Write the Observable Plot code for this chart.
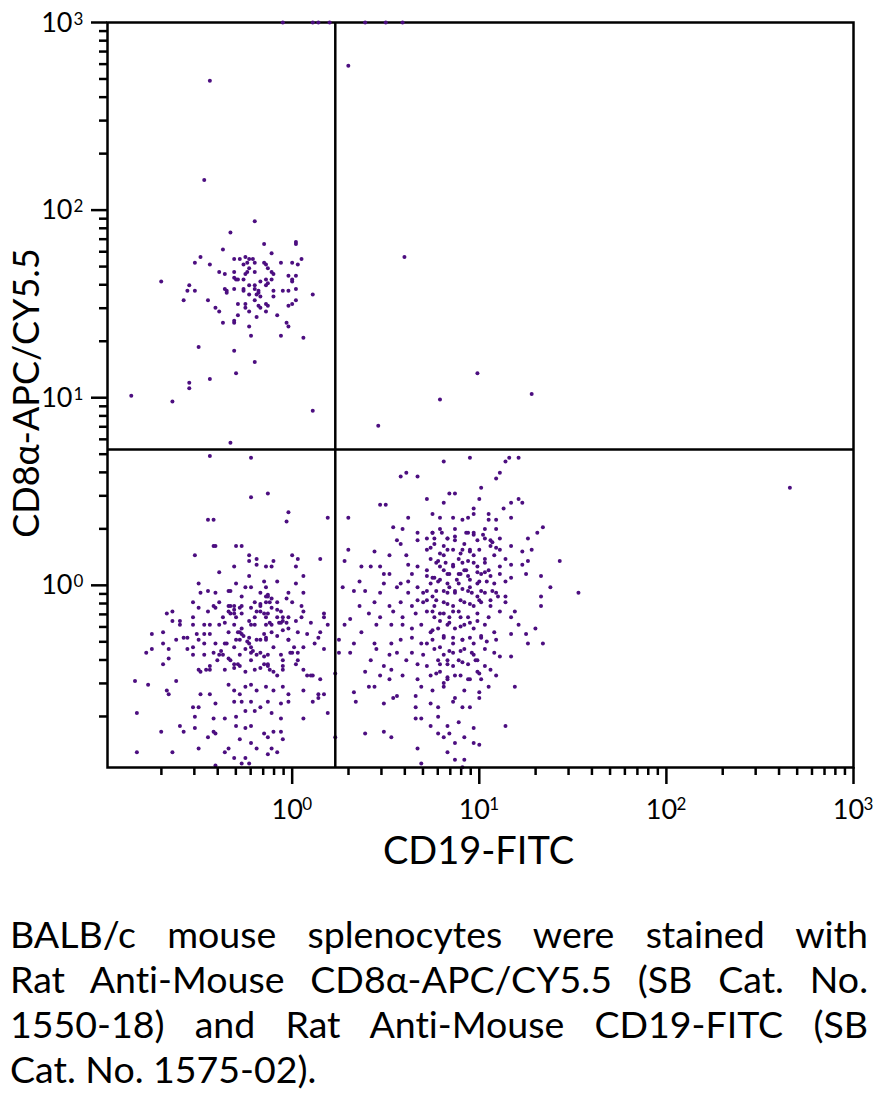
<!DOCTYPE html>
<html><head><meta charset="utf-8">
<script src="https://cdn.jsdelivr.net/npm/d3@7"></script>
<script src="https://cdn.jsdelivr.net/npm/@observablehq/plot@0.6"></script>
<style>
html,body{margin:0;padding:0;background:#fff;}
#wrap{position:relative;width:884px;height:1099px;overflow:hidden;}
#caption{position:absolute;left:10px;top:911px;width:858px;font-family:Lato,sans-serif;font-size:37.5px;line-height:45px;color:#000;font-variant-ligatures:none;}
#caption div{text-align:justify;text-align-last:justify;white-space:nowrap;}
#caption div.last{text-align-last:left;}
svg text{font-variant-ligatures:none;}
</style></head><body><div id="wrap"><div id="chart"></div><div id="caption"></div></div>
<script>
// values are log10 of fluorescence intensity (decades)
// CD8+ T cells (upper-left quadrant)
const ulX = [-0.20,-0.33,0.02,0.02,-0.15,-0.37,-0.11,-0.49,-0.25,-0.23,-0.21,-0.20,0.05,-0.52,-0.31,-0.28,-0.06,0,0.03,-0.44,-0.26,-0.24,-0.15,-0.14,-0.13,-0.11,-0.10,-0.39,-0.36,-0.31,-0.24,-0.23,-0.20,-0.25,-0.31,-0.30,-0.29,-0.26,-0.14,-0.11,-0.02,0,0.02,0,-0.70,-0.17,-0.14,-0.13,-0.55,-0.36,-0.35,-0.35,-0.31,-0.26,-0.26,-0.23,-0.20,-0.20,-0.18,-0.18,-0.17,-0.19,-0.56,-0.52,-0.10,-0.05,-0.02,0.02,-0.23,0.11,-0.58,-0.45,-0.20,-0.10,-0.29,-0.25,-0.14,-0.13,0.02,0,-0.02,-0.18,-0.17,-0.41,-0.39,-0.25,-0.23,-0.14,-0.29,-0.08,-0.19,-0.31,-0.31,-0.37,-0.03,-0.02,-0.23,-0.22,-0.06,0.06,-0.50,-0.31,-0.20,-0.30,-0.44,-0.55,-0.55,-0.86,-0.64,0.11,-0.33];
const ulY = [1.94,1.88,1.83,1.82,1.82,1.79,1.77,1.75,1.75,1.74,1.74,1.72,1.74,1.72,1.74,1.74,1.72,1.72,1.71,1.71,1.71,1.72,1.72,1.71,1.69,1.67,1.66,1.67,1.66,1.67,1.67,1.69,1.67,1.66,1.64,1.63,1.63,1.63,1.63,1.63,1.65,1.63,1.65,1.62,1.62,1.62,1.60,1.61,1.60,1.58,1.57,1.56,1.58,1.58,1.57,1.60,1.60,1.58,1.57,1.56,1.54,1.55,1.57,1.57,1.57,1.57,1.57,1.58,1.55,1.55,1.52,1.52,1.52,1.54,1.50,1.50,1.50,1.49,1.52,1.50,1.49,1.49,1.48,1.48,1.46,1.48,1.46,1.46,1.44,1.44,1.43,1.41,1.40,1.40,1.40,1.38,1.38,1.33,1.33,1.32,1.27,1.25,1.19,1.13,1.10,1.08,1.05,1.01,0.98,0.93,0.76];

// double-negative cells (lower-left quadrant)
const llX = [-0.44,-0.22,-0.22,-0.13,-0.02,-0.03,0.19,-0.45,-0.42,-0.42,-0.41,-0.30,-0.27,-0.52,-0.23,-0.23,-0.19,-0.19,-0.10,0,0.03,0.15,-0.31,-0.14,-0.11,0.02,-0.39,-0.23,0.06,-0.15,-0.08,-0.50,-0.30,-0.25,-0.22,-0.14,0.02,
-0.45,-0.49,-0.34,-0.33,-0.41,-0.27,-0.17,-0.13,-0.11,-0.03,-0.02,0.06,
-0.53,-0.50,-0.42,-0.39,-0.34,-0.31,-0.27,-0.20,-0.17,-0.14,-0.08,0,0.05,
-0.64,-0.67,-0.45,-0.41,-0.34,-0.31,-0.30,-0.19,-0.15,-0.11,-0.06,0.06,0.17,0.17,
-0.64,-0.60,-0.53,-0.37,-0.27,-0.23,-0.20,-0.14,-0.08,-0.05,-0.02,0.02,0.05,
-0.69,-0.60,-0.53,-0.47,-0.44,-0.39,-0.36,-0.31,-0.20,-0.11,-0.06,-0.02,0.10,0.19,
-0.75,-0.69,-0.62,-0.58,-0.56,-0.51,-0.47,-0.44,-0.34,-0.28,-0.27,-0.23,-0.15,-0.11,0.03,0.08,0.15,
-0.78,-0.75,-0.66,-0.56,-0.53,-0.50,-0.47,-0.41,-0.36,-0.30,-0.23,-0.19,-0.14,-0.10,-0.02,0.06,0.12,0.14,
-0.69,-0.66,-0.53,-0.47,-0.42,-0.39,-0.34,-0.28,-0.25,-0.22,-0.17,-0.13,-0.06,0,0.03,0.17,
-0.84,-0.77,-0.62,-0.50,-0.49,-0.44,-0.36,-0.31,-0.28,-0.25,-0.20,-0.15,-0.13,-0.10,-0.05,0.02,0.08,0.11,0.15,
-0.67,-0.66,-0.49,-0.44,-0.34,-0.31,-0.28,-0.25,-0.22,-0.19,-0.14,-0.10,-0.05,-0.02,0.06,0.14,0.17,
-0.53,-0.50,-0.41,-0.31,-0.27,-0.22,-0.17,-0.13,-0.06,-0.02,0.11,0.14,
-0.83,-0.52,-0.42,-0.30,-0.25,-0.20,-0.11,-0.06,0.19,
-0.60,-0.52,-0.42,-0.41,-0.36,-0.30,-0.25,-0.22,-0.15,-0.13,-0.10,-0.06,0.06,
-0.70,-0.58,-0.45,-0.28,-0.22,-0.05,
-0.83,-0.64,-0.50,-0.36,-0.34,-0.31,-0.19,-0.11,-0.13,-0.08,-0.25,-0.23,-0.27,-0.41];
const llY = [0.69,0.68,0.47,0.49,0.39,0.34,0.36,0.35,0.35,0.21,0.21,0.21,0.21,0.16,0.16,0.13,0.14,0.11,0.13,0.16,0.14,0.14,0.10,0.10,0.10,0.10,0.07,0.05,0.05,0.02,0.02,0.01,0.01,-0.01,-0.01,-0.01,0.01,
-0.03,-0.04,-0.03,-0.03,-0.04,-0.06,-0.04,-0.06,-0.07,-0.07,-0.04,-0.04,
-0.09,-0.12,-0.11,-0.09,-0.11,-0.11,-0.11,-0.09,-0.11,-0.09,-0.09,-0.09,-0.11,
-0.14,-0.15,-0.14,-0.12,-0.14,-0.15,-0.17,-0.14,-0.15,-0.12,-0.14,-0.14,-0.15,-0.17,
-0.19,-0.19,-0.17,-0.17,-0.15,-0.19,-0.17,-0.17,-0.17,-0.19,-0.17,-0.19,-0.17,
-0.25,-0.21,-0.21,-0.21,-0.21,-0.21,-0.20,-0.21,-0.21,-0.21,-0.20,-0.23,-0.20,-0.21,
-0.26,-0.31,-0.29,-0.28,-0.28,-0.26,-0.26,-0.26,-0.25,-0.25,-0.26,-0.28,-0.26,-0.25,-0.25,-0.26,-0.25,
-0.36,-0.34,-0.34,-0.34,-0.33,-0.29,-0.31,-0.31,-0.31,-0.29,-0.31,-0.29,-0.29,-0.33,-0.29,-0.33,-0.31,-0.28,
-0.42,-0.39,-0.37,-0.37,-0.36,-0.37,-0.39,-0.37,-0.34,-0.36,-0.36,-0.37,-0.37,-0.36,-0.36,-0.34,
-0.51,-0.53,-0.51,-0.45,-0.46,-0.45,-0.45,-0.42,-0.43,-0.46,-0.45,-0.42,-0.43,-0.46,-0.43,-0.42,-0.48,-0.48,-0.50,
-0.56,-0.58,-0.58,-0.58,-0.53,-0.56,-0.58,-0.54,-0.53,-0.56,-0.54,-0.56,-0.54,-0.58,-0.56,-0.58,-0.58,
-0.65,-0.65,-0.63,-0.62,-0.62,-0.62,-0.65,-0.62,-0.63,-0.62,-0.62,-0.60,
-0.68,-0.70,-0.71,-0.70,-0.67,-0.67,-0.68,-0.71,-0.68,
-0.75,-0.76,-0.78,-0.79,-0.71,-0.75,-0.76,-0.75,-0.79,-0.81,-0.78,-0.78,-0.71,
-0.78,-0.78,-0.81,-0.82,-0.84,-0.82,
-0.89,-0.89,-0.87,-0.89,-0.87,-0.92,-0.87,-0.87,-0.90,-0.89,-0.92,-0.95,-0.95,-0.96];
const llCoreX = [-0.33,-0.31,-0.33,-0.28,-0.22,-0.17,-0.14,-0.13,-0.12,-0.17,-0.13,-0.08,-0.05,-0.03,-0.07,-0.12,-0.14,-0.22,-0.27,-0.29,-0.26,-0.28,-0.24,-0.22,-0.21,-0.31,-0.35,-0.38,-0.37,-0.40,-0.44,-0.46,-0.33,-0.29,-0.31,-0.22,-0.19,-0.15,-0.13,-0.12,-0.17,-0.14,-0.08,-0.05,-0.02,0.01,-0.01,-0.05,-0.05,-0.08,0.03,0.06,0.10,-0.17];
const llCoreY = [-0.11,-0.13,-0.15,-0.12,-0.12,-0.10,-0.06,-0.05,-0.09,-0.14,-0.15,-0.13,-0.17,-0.20,-0.20,-0.20,-0.21,-0.21,-0.23,-0.25,-0.27,-0.29,-0.30,-0.33,-0.35,-0.33,-0.31,-0.35,-0.37,-0.40,-0.43,-0.45,-0.40,-0.42,-0.44,-0.40,-0.37,-0.38,-0.42,-0.45,-0.29,-0.28,-0.27,-0.24,-0.29,-0.33,-0.36,-0.40,-0.45,-0.48,-0.40,-0.45,-0.48,-0.44];

// B cells (lower-right quadrant)
const lrX = [0.81,0.95,1.14,1.16,1.21,
0.58,0.61,0.67,1.11,1.09,1.01,
0.84,0.87,0.72,0.81,1.00,1.17,1.21,1.23,
0.47,0.50,0.97,1.13,
0.30,0.62,0.75,0.79,0.86,0.91,0.94,0.97,1.05,1.09,1.17,1.05,
0.54,0.59,0.67,0.75,0.79,0.87,0.94,0.97,1.03,1.09,1.31,1.34,
0.56,0.67,0.72,0.76,0.83,0.87,0.92,0.99,1.03,1.06,1.11,1.26,
0.30,0.44,0.58,0.72,0.81,0.86,0.91,0.95,1.00,1.06,1.11,1.17,1.23,1.28,
0.28,0.52,0.61,0.74,0.78,0.81,0.89,0.94,0.97,1.03,1.08,1.14,1.26,1.43,
0.37,0.42,0.47,0.62,0.67,0.72,0.79,0.86,0.92,0.99,1.05,1.11,1.17,1.23,
0.49,0.52,0.64,0.72,0.76,0.83,0.89,0.94,1.01,1.06,1.11,1.25,1.33,
0.27,0.36,0.49,0.58,0.62,0.67,0.74,0.78,0.84,0.89,0.95,1.00,1.08,1.14,1.17,1.38,
0.33,0.39,0.47,0.56,0.62,0.70,0.75,0.81,0.87,0.94,0.99,1.03,1.09,1.14,1.33,
0.36,0.44,0.52,0.58,0.64,0.70,0.76,0.81,0.86,0.92,0.97,1.01,1.06,1.14,1.33,1.53,
0.31,0.41,0.47,0.54,0.59,0.66,0.72,0.76,0.79,0.84,0.89,0.94,0.99,1.05,1.11,1.17,1.19,
0.28,0.37,0.45,0.53,0.59,0.64,0.69,0.74,0.78,0.83,0.87,0.92,0.97,1.03,1.08,1.17,1.21,1.25,1.30,
0.25,0.33,0.44,0.53,0.58,0.64,0.69,0.75,0.81,0.86,0.91,0.95,1.01,1.09,1.26,1.34,
0.25,0.31,0.45,0.52,0.56,0.64,0.70,0.76,0.81,0.86,0.92,0.97,1.03,1.08,1.17,
0.42,0.49,0.53,0.61,0.67,0.72,0.78,0.83,0.89,0.94,0.99,1.03,1.11,1.06,
0.39,0.47,0.52,0.59,0.67,0.74,0.79,0.83,0.87,0.94,0.99,1.01,1.09,
0.33,0.41,0.44,0.56,0.66,0.69,0.75,0.81,0.87,0.92,1.00,1.05,1.19,
0.34,0.49,0.54,0.66,0.74,0.78,0.86,0.91,0.95,1.00,
0.66,0.69,0.74,0.78,0.83,0.89,0.97,1.14,
0.39,0.49,0.53,0.78,0.81,0.84,0.87,0.92,0.97,1.00,
0.67,0.83,0.87,0.92,0.69,0.91,0.23,0.23];
const lrY = [0.66,0.68,0.66,0.68,0.68,
0.58,0.60,0.58,0.60,0.57,0.52,
0.49,0.49,0.46,0.44,0.46,0.44,0.46,0.44,
0.43,0.43,0.41,0.41,
0.36,0.36,0.38,0.36,0.36,0.35,0.36,0.38,0.38,0.35,0.36,0.35,
0.31,0.30,0.28,0.28,0.30,0.30,0.28,0.27,0.30,0.30,0.28,0.31,
0.24,0.24,0.25,0.22,0.25,0.24,0.22,0.24,0.25,0.24,0.25,0.25,
0.19,0.18,0.22,0.19,0.21,0.19,0.19,0.18,0.19,0.21,0.19,0.21,0.18,0.19,
0.13,0.16,0.16,0.14,0.13,0.16,0.14,0.13,0.16,0.14,0.16,0.14,0.13,0.13,
0.10,0.10,0.10,0.11,0.10,0.08,0.10,0.10,0.08,0.10,0.08,0.10,0.11,0.11,
0.06,0.06,0.06,0.05,0.04,0.06,0.06,0.05,0.06,0.05,0.06,0.06,0.05,
-0.01,0.02,0.01,0.01,0.02,-0.01,0.01,0.02,-0.01,0.01,-0.01,0.02,0.01,0.02,0.04,-0.01,
-0.03,-0.03,-0.04,-0.01,-0.04,-0.04,-0.06,-0.03,-0.04,-0.03,-0.06,-0.04,-0.04,-0.06,-0.06,
-0.11,-0.09,-0.11,-0.09,-0.11,-0.09,-0.11,-0.09,-0.11,-0.09,-0.11,-0.09,-0.11,-0.09,-0.11,-0.04,
-0.18,-0.15,-0.17,-0.14,-0.17,-0.15,-0.14,-0.17,-0.15,-0.17,-0.14,-0.17,-0.15,-0.17,-0.14,-0.17,-0.14,
-0.21,-0.25,-0.21,-0.21,-0.21,-0.23,-0.21,-0.25,-0.23,-0.21,-0.23,-0.21,-0.23,-0.21,-0.25,-0.26,-0.21,-0.26,-0.23,
-0.29,-0.31,-0.31,-0.31,-0.29,-0.28,-0.31,-0.29,-0.28,-0.31,-0.29,-0.28,-0.28,-0.29,-0.31,-0.31,
-0.36,-0.36,-0.34,-0.37,-0.36,-0.36,-0.37,-0.34,-0.37,-0.36,-0.34,-0.37,-0.34,-0.36,-0.38,
-0.40,-0.43,-0.45,-0.40,-0.42,-0.43,-0.40,-0.42,-0.40,-0.42,-0.40,-0.43,-0.38,-0.45,
-0.46,-0.48,-0.50,-0.48,-0.50,-0.48,-0.46,-0.50,-0.48,-0.50,-0.46,-0.50,-0.48,
-0.57,-0.54,-0.54,-0.59,-0.59,-0.54,-0.56,-0.54,-0.60,-0.56,-0.57,-0.54,-0.54,
-0.62,-0.63,-0.60,-0.65,-0.63,-0.65,-0.62,-0.65,-0.65,-0.60,
-0.71,-0.71,-0.75,-0.70,-0.75,-0.73,-0.76,-0.75,
-0.79,-0.78,-0.81,-0.79,-0.81,-0.79,-0.84,-0.81,-0.84,-0.85,
-0.87,-0.89,-0.93,-0.93,-0.95,-0.97,-0.81,-0.47];
const lrCoreX = [0.75,0.80,0.76,0.83,0.87,0.93,0.97,1.02,1.07,1.09,0.95,0.90,0.83,0.79,0.74,0.77,0.82,0.86,0.91,0.97,1.03,0.81,0.84,0.90,0.93,0.99,1.03,0.75,0.79,0.83,0.88,0.95,0.99,1.04,0.72,0.77,0.83,0.87,0.91,0.96,1.01,1.07,0.67,0.72,0.77,0.83,0.90,0.95,1.00,1.06,1.10,
0.75,0.81,0.86,0.90,0.79,0.84,0.90,0.95,0.99,1.01,1.04,0.75,0.81,0.86,0.91,0.97,0.72,0.79,0.84,0.90,0.96,0.83,0.79,0.86,0.91,0.98,0.77,0.83,0.90,0.95,1.00,0.81];
const lrCoreY = [0.28,0.28,0.25,0.25,0.26,0.28,0.28,0.27,0.23,0.20,0.19,0.17,0.19,0.17,0.20,0.12,0.12,0.11,0.12,0.12,0.12,0.08,0.06,0.06,0.08,0.07,0.07,0.04,0.03,0.01,0.03,0.03,0.01,0.02,-0.03,-0.03,-0.04,-0.03,-0.02,-0.04,-0.03,-0.03,-0.08,-0.08,-0.08,-0.10,-0.08,-0.10,-0.08,-0.08,-0.06,
-0.14,-0.15,-0.14,-0.17,-0.19,-0.20,-0.22,-0.20,-0.19,-0.27,-0.30,-0.24,-0.27,-0.28,-0.29,-0.31,-0.31,-0.33,-0.35,-0.35,-0.36,-0.40,-0.42,-0.43,-0.41,-0.40,-0.47,-0.49,-0.48,-0.50,-0.47,-0.52];

// scattered events
const outX = [-0.44,-0.47,0.30,0.60,0.99,0.79,1.28,0.46,2.66];
const outY = [2.69,2.16,2.77,1.75,1.13,0.99,1.02,0.85,0.52];
// events piled at the top of the CD8 scale (10^3)
const topX = [-0.05,0.11,0.14,0.20,0.39,0.50,0.59];
const topY = [3,3,3,3,3,3,3];

// quadrant gates
const gateCD19 = [1.7];
const gateCD8 = [5.3];

// ticks
const xMajor = [1,10,100,1000];
const yMajor = [1,10,100,1000];
const minorTicks = [0.2,0.3,0.4,0.5,0.6,0.7,0.8,0.9,2,3,4,5,6,7,8,9,20,30,40,50,60,70,80,90,200,300,400,500,600,700,800,900];

const xLabel = "CD19-FITC";
const yLabel = "CD8\u03b1-APC/CY5.5";
const captionLines = [
  "BALB/c mouse splenocytes were stained with",
  "Rat Anti-Mouse CD8\u03b1-APC/CY5.5 (SB Cat. No.",
  "1550-18) and Rat Anti-Mouse CD19-FITC (SB",
  "Cat. No. 1575-02)."
];

const toRows = (xs, ys) => xs.slice(0, Math.min(xs.length, ys.length)).map((x, i) => ({cd19: 10 ** x, cd8: 10 ** ys[i]}));
const events = [
  ...toRows(ulX, ulY), ...toRows(llX, llY), ...toRows(llCoreX, llCoreY),
  ...toRows(lrX, lrY), ...toRows(lrCoreX, lrCoreY), ...toRows(outX, outY)
];
const topEvents = toRows(topX, topY);

const font = "Lato";
const ink = "#000";
const dotColor = "#4c0e80";
const expOf = d => String(Math.round(Math.log10(d)));

const chart = Plot.plot({
  width: 884, height: 880,
  marginLeft: 107, marginRight: 31, marginTop: 22, marginBottom: 113,
  style: {fontFamily: font, background: "#fff", color: ink},
  x: {type: "log", domain: [10 ** -0.987, 1000]},
  y: {type: "log", domain: [10 ** -0.971, 1000]},
  marks: [
    Plot.axisX(minorTicks, {anchor: "bottom", tickSize: 8, tickFormat: () => "", label: null, strokeWidth: 2.5}),
    Plot.axisX(xMajor, {anchor: "bottom", tickSize: 17, tickFormat: () => "", label: null, strokeWidth: 2.5}),
    Plot.axisY(minorTicks, {anchor: "left", tickSize: 8, tickFormat: () => "", label: null, strokeWidth: 2.5}),
    Plot.axisY(yMajor, {anchor: "left", tickSize: 16, tickFormat: () => "", label: null, strokeWidth: 2.5}),
    Plot.dot(events, {x: "cd19", y: "cd8", r: 2, fill: dotColor}),
    Plot.ruleX(gateCD19, {stroke: ink, strokeWidth: 2.5}),
    Plot.ruleY(gateCD8, {stroke: ink, strokeWidth: 2.5}),
    Plot.frame({stroke: ink, strokeWidth: 2.5}),
    Plot.dot(topEvents, {x: "cd19", y: "cd8", r: 2, fill: dotColor}),
    Plot.text(xMajor, {x: d => d, frameAnchor: "bottom", text: () => "10", textAnchor: "middle", dx: -5, dy: 51, lineAnchor: "bottom", fontSize: 27, fontFamily: font, fill: ink}),
    Plot.text(xMajor, {x: d => d, frameAnchor: "bottom", text: expOf, textAnchor: "start", dx: 10, dy: 42, lineAnchor: "bottom", fontSize: 17, fontFamily: font, fill: ink}),
    Plot.text(yMajor, {y: d => d, frameAnchor: "left", text: () => "10", textAnchor: "end", dx: -35, dy: 9, lineAnchor: "bottom", fontSize: 27, fontFamily: font, fill: ink}),
    Plot.text(yMajor, {y: d => d, frameAnchor: "left", text: expOf, textAnchor: "start", dx: -34, dy: 2, lineAnchor: "bottom", fontSize: 17, fontFamily: font, fill: ink}),
    Plot.text([xLabel], {frameAnchor: "bottom", text: d => d, textAnchor: "middle", dx: -2, dy: 96, lineAnchor: "bottom", fontSize: 38, fontFamily: font, fill: ink}),
    Plot.text([yLabel], {frameAnchor: "left", text: d => d, textAnchor: "middle", rotate: -90, dx: -69, dy: -2, lineAnchor: "bottom", fontSize: 36, fontFamily: font, fill: ink})
  ]
});
document.getElementById("chart").appendChild(chart);

const cap = document.getElementById("caption");
captionLines.forEach((t, i) => {
  const div = document.createElement("div");
  div.textContent = t;
  if (i === captionLines.length - 1) div.className = "last";
  cap.appendChild(div);
});
</script>
</body></html>
